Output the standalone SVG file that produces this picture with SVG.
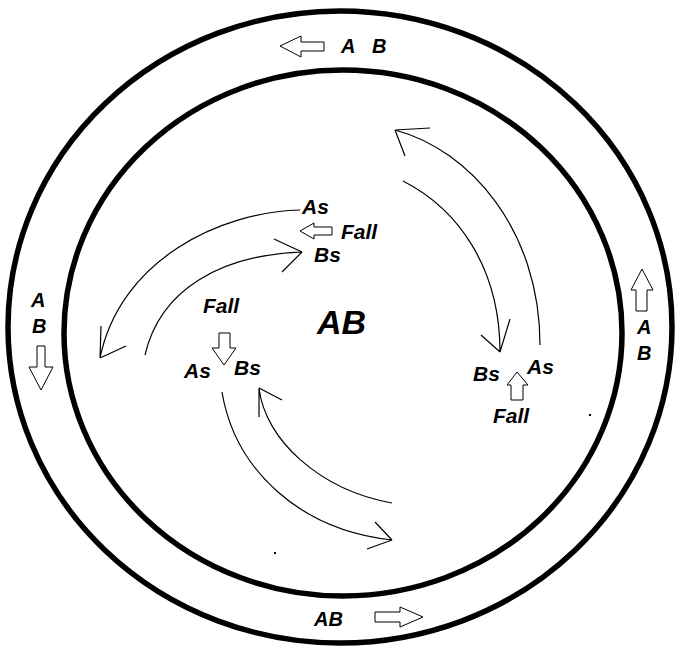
<svg xmlns="http://www.w3.org/2000/svg" width="677" height="647" viewBox="0 0 677 647">
<defs>
<style>
.ring{fill:none;stroke:#000;stroke-width:5.5}
.blk{fill:#fff;stroke:#000;stroke-width:1}
.arc{fill:none;stroke:#000;stroke-width:1.2}
.t{font-family:"Liberation Sans",Arial,sans-serif;font-weight:bold;font-style:italic;font-size:21px;fill:#000}
.band{font-size:20px}
.big{font-size:34px}
</style>
</defs>
<rect width="677" height="647" fill="#fff"/>
<g id="outer-ring"><ellipse class="ring" cx="340" cy="327" rx="332" ry="316"/></g>
<g id="inner-ring"><ellipse class="ring" cx="343" cy="333" rx="279" ry="263"/></g>
<g id="top-label">
<polygon class="blk" points="280,46 301,36 301,42 324,42 324,51 301,51 301,57"/>
<text class="t band" x="341" y="53">A</text><text class="t band" x="372" y="53">B</text>
</g>
<g id="left-label">
<text class="t band" x="31" y="307">A</text><text class="t band" x="32" y="333">B</text>
<polygon class="blk" points="37,346 45,346 45,367 53,367 41,390 29,367 37,367"/>
</g>
<g id="right-label">
<polygon class="blk" points="642,269 653,290 647,290 647,311 636,311 636,290 631,290"/>
<text class="t band" x="637" y="334">A</text><text class="t band" x="637" y="360">B</text>
</g>
<g id="bottom-label">
<text class="t band" x="314" y="626">AB</text>
<polygon class="blk" points="375,612 400,612 400,607 423,617 400,627 400,622 375,622"/>
</g>
<g id="center-label"><text class="t big" x="317" y="334">AB</text></g>
<g id="upper-left-group">
<text class="t" x="302" y="214">As</text>
<polygon class="blk" points="300,231 314,223 314,227 332,227 332,235 314,235 314,239"/>
<text class="t" x="341" y="239">Fall</text>
<text class="t" x="314" y="262">Bs</text>
</g>
<g id="center-left-group">
<text class="t" x="203" y="313">Fall</text>
<polygon class="blk" points="219,333 230,333 230,348 236,348 224,365 212,348 219,348"/>
<text class="t" x="184" y="378">As</text>
<text class="t" x="234" y="375">Bs</text>
</g>
<g id="right-group">
<text class="t" x="473" y="381">Bs</text>
<text class="t" x="527" y="374">As</text>
<polygon class="blk" points="517,372 528,385 523,385 523,400 511,400 511,385 507,385"/>
<text class="t" x="493" y="423">Fall</text>
</g>
<g id="connectors">
<path class="arc" d="M300,210 C220,212 120,260 100,358 M100,358 L101,326 M100,358 L126,346"/>
<path class="arc" d="M145,355 C160,290 220,255 302,252 M302,252 L274,239 M302,252 L282,272"/>
<path class="arc" d="M540,345 C540,230 470,150 395,130 M395,130 L430,128 M395,130 L405,156"/>
<path class="arc" d="M403,181 C460,210 500,270 500,352 M500,352 L481,335 M500,352 L510,319"/>
<path class="arc" d="M222,392 C235,470 300,530 392,540 M392,540 L375,522 M392,540 L367,549"/>
<path class="arc" d="M392,503 C320,490 265,440 259,388 M259,388 L282,400 M259,388 L259,417"/>
</g>
<g id="specks">
<rect x="589" y="414" width="2" height="2" fill="#000"/>
<rect x="274" y="552" width="2" height="2" fill="#000"/>
</g>
</svg>
